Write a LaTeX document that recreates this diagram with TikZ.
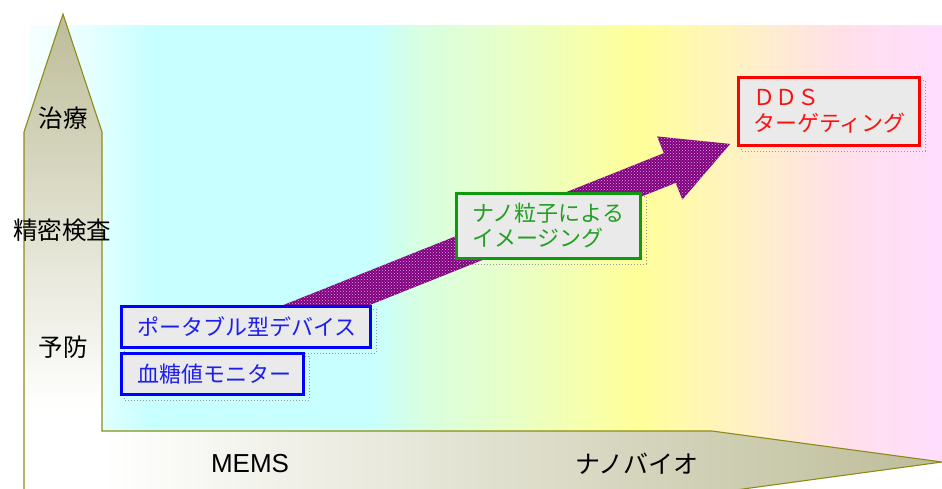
\documentclass[tikz,border=0pt]{standalone}
\usepackage{fontspec}
\setmainfont{Liberation Sans}
\newfontfamily\jpfont{Noto Sans CJK JP}
\usetikzlibrary{patterns}
\definecolor{bgA}{HTML}{F6FFFF}
\definecolor{bgB}{HTML}{E6FFFF}
\definecolor{bgC}{HTML}{C8FFFF}
\definecolor{bgD}{HTML}{C8FFFF}
\definecolor{bgE}{HTML}{D8FFE0}
\definecolor{bgF}{HTML}{E8FFC8}
\definecolor{bgG}{HTML}{FFFF99}
\definecolor{bgH}{HTML}{FFF0C8}
\definecolor{bgI}{HTML}{FFE0E8}
\definecolor{bgJ}{HTML}{FFDDFF}
\definecolor{olivefill}{HTML}{BDBD99}
\definecolor{oliveline}{HTML}{8C8C14}
\definecolor{boxfill}{HTML}{EAEAEA}
\definecolor{bblue}{HTML}{0000FF}
\definecolor{tblue}{HTML}{1E1EEE}
\definecolor{bgreen}{HTML}{109910}
\definecolor{tgreen}{HTML}{22A022}
\definecolor{bred}{HTML}{FF0000}
\definecolor{tred}{HTML}{FF1010}
\definecolor{arrowpurple}{HTML}{800080}
\definecolor{dotpink}{HTML}{D8A8D8}
\definecolor{shadowgray}{HTML}{999999}
\pgfdeclarehorizontalshading{bgshade}{100bp}{color(0bp)=(bgA); color(25bp)=(bgA); color(28.3bp)=(bgB); color(31.6bp)=(bgC); color(43.8bp)=(bgD); color(46.4bp)=(bgE); color(51.3bp)=(bgF); color(58.3bp)=(bgG); color(64.5bp)=(bgH); color(69.4bp)=(bgI); color(75bp)=(bgJ); color(100bp)=(bgJ)}
\pgfdeclarelayer{back}
\pgfdeclarelayer{shadow}
\pgfsetlayers{back,shadow,main}
\begin{document}
\begin{tikzpicture}[x=1pt,y=-1pt,
  axisline/.style={draw=oliveline, line width=1.1pt, line join=miter},
  vlabel/.style={font=\jpfont\fontsize{24.5}{28}\selectfont, inner sep=0pt},
  tbox/.style={line width=3pt, fill=boxfill, font=\jpfont\fontsize{22}{25}\selectfont,
     align=left, inner xsep=15.5pt, inner ysep=0pt, anchor=north west},
  shadowline/.style={draw=shadowgray, line width=1pt, dash pattern=on 1pt off 2pt},
  bigarrow/.style={fill=arrowpurple, postaction={pattern=crosshatch dots, pattern color=dotpink}}]
\useasboundingbox (0,0) rectangle (942,488);
\begin{pgfonlayer}{back}
  % background gradient
  \shade[shading=bgshade] (30,25) rectangle (942,462);
  % vertical arm fill
  \shade[top color=olivefill, bottom color=white] (24,410) -- (24,132) -- (63,14) -- (102,132) -- (102,410) -- cycle;
  \fill[white] (24,410) rectangle (102,431);
  % horizontal arm fill
  \shade[left color=white, right color=olivefill] (102,431) -- (712,431) -- (942,462) -- (712,493) -- (102,493) -- cycle;
  \fill[white] (24,431) rectangle (102,493);
  % outline
  \draw[axisline] (24,495) -- (24,132) -- (63,14) -- (102,132) -- (102,431) -- (712,431) -- (942,462) -- (712,493.2);
  % big arrow
  \begin{scope}[shift={(289,320)}, rotate=21.76]
    \path[bigarrow] (0,-16) -- (410,-16) -- (410,-34) -- (475,0) -- (410,34) -- (410,16) -- (0,16) -- cycle;
  \end{scope}
\end{pgfonlayer}

% axis labels
\node[vlabel] (chiryo) at (63,118) {治療};
\node[vlabel] (seimitsu) at (62,230) {精密検査};
\node[vlabel] (yobo) at (63,347) {予防};
\node[font=\fontsize{26}{30}\selectfont, inner sep=0pt] (mems) at (250,463.5) {MEMS};
\node[font=\jpfont\fontsize{25}{30}\selectfont, inner sep=0pt] (nanobio) at (637,464) {ナノバイオ};

% boxes
\node[tbox, draw=bblue, text=tblue, minimum width=249pt, minimum height=41pt, text width=218pt] (portable) at (120,305) {ポータブル型デバイス};
\node[tbox, draw=bblue, text=tblue, minimum width=182pt, minimum height=41pt, text width=151pt] (blood) at (120,352) {血糖値モニター};
\node[tbox, draw=bgreen, text=tgreen, minimum width=184pt, minimum height=65pt, text width=153pt] (imaging) at (455,192) {ナノ粒子による\\イメージング};
\node[tbox, draw=bred, text=tred, minimum width=181pt, minimum height=68pt, text width=152pt, inner xsep=14.5pt, font=\jpfont\fontsize{22}{26}\selectfont] (dds) at (737,76) {ＤＤＳ\\ターゲティング};

\begin{pgfonlayer}{shadow}
  \foreach \b in {portable,blood,imaging,dds}
    \draw[shadowline] ([shift={(4,4)}]\b.north west) rectangle ([shift={(4,4)}]\b.south east);
\end{pgfonlayer}
\end{tikzpicture}
\end{document}
